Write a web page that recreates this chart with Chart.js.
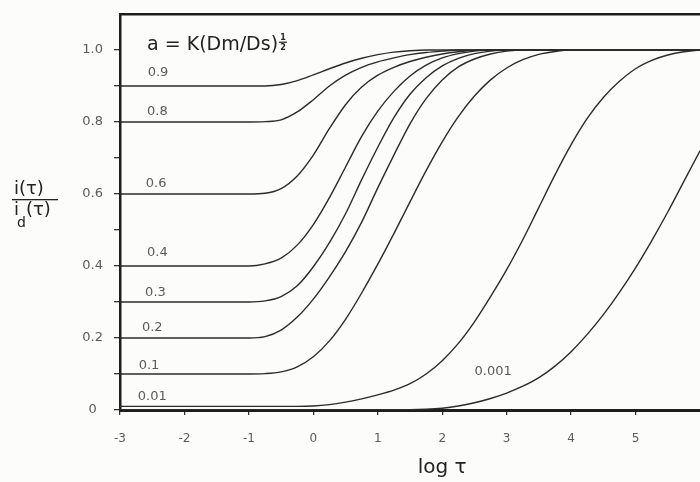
<!DOCTYPE html>
<html>
<head>
<meta charset="utf-8">
<script src="https://cdn.jsdelivr.net/npm/chart.js@4.4.0/dist/chart.umd.min.js"></script>
<style>
  html, body { margin: 0; padding: 0; background: #fcfcfa; }
  #wrap { width: 700px; height: 482px; }
</style>
</head>
<body>
<div id="wrap"><canvas id="chart" width="700" height="482"></canvas></div>
<script>
// x positions (log tau) shared by every curve
const logTau = [-3, -2, -1.5, -1, -0.75, -0.5, -0.25, 0, 0.25, 0.5, 0.75, 1, 1.25, 1.5, 1.75, 2,
                2.25, 2.5, 2.75, 3, 3.25, 3.5, 3.75, 4, 4.25, 4.5, 4.75, 5, 5.25, 5.5, 5.75, 6];

// i(tau)/id(tau), one array per value of a
const a09 = [0.9, 0.9, 0.9, 0.9, 0.9, 0.904, 0.915, 0.931, 0.948, 0.964, 0.977, 0.987, 0.994, 0.998,
             1, 1, 1, 1, 1, 1, 1, 1, 1, 1, 1, 1, 1, 1, 1, 1, 1, 1];
const a08 = [0.8, 0.8, 0.8, 0.8, 0.801, 0.806, 0.828, 0.862, 0.9, 0.93, 0.952, 0.967, 0.978, 0.987, 0.993, 0.997,
             1, 1, 1, 1, 1, 1, 1, 1, 1, 1, 1, 1, 1, 1, 1, 1];
const a06 = [0.6, 0.6, 0.6, 0.6, 0.602, 0.615, 0.65, 0.708, 0.782, 0.848, 0.897, 0.93, 0.952, 0.968, 0.98, 0.989,
             0.995, 0.999, 1, 1, 1, 1, 1, 1, 1, 1, 1, 1, 1, 1, 1, 1];
const a04 = [0.4, 0.4, 0.4, 0.4, 0.406, 0.422, 0.458, 0.515, 0.59, 0.675, 0.76, 0.83, 0.885, 0.928, 0.958, 0.978,
             0.99, 0.997, 1, 1, 1, 1, 1, 1, 1, 1, 1, 1, 1, 1, 1, 1];
const a03 = [0.3, 0.3, 0.3, 0.3, 0.303, 0.315, 0.345, 0.398, 0.465, 0.545, 0.64, 0.73, 0.812, 0.877, 0.923, 0.956,
             0.977, 0.99, 0.997, 1, 1, 1, 1, 1, 1, 1, 1, 1, 1, 1, 1, 1];
const a02 = [0.2, 0.2, 0.2, 0.2, 0.204, 0.222, 0.258, 0.308, 0.37, 0.44, 0.522, 0.617, 0.708, 0.795, 0.865, 0.917,
             0.953, 0.975, 0.989, 0.997, 1, 1, 1, 1, 1, 1, 1, 1, 1, 1, 1, 1];
const a01 = [0.1, 0.1, 0.1, 0.1, 0.101, 0.106, 0.12, 0.148, 0.192, 0.252, 0.325, 0.405, 0.49, 0.578, 0.665, 0.745,
             0.815, 0.872, 0.917, 0.95, 0.973, 0.988, 0.996, 1, 1, 1, 1, 1, 1, 1, 1, 1];
const a001 = [0.01, 0.01, 0.01, 0.01, 0.01, 0.01, 0.01, 0.011, 0.015, 0.022, 0.031, 0.042, 0.055, 0.073, 0.1, 0.137,
              0.185, 0.245, 0.315, 0.39, 0.473, 0.563, 0.653, 0.737, 0.81, 0.868, 0.913, 0.948, 0.971, 0.986, 0.995, 1];
const a0001 = [0.001, 0.001, 0.001, 0.001, 0.001, 0.001, 0.001, 0.001, 0.001, 0.001, 0.001, 0.001, 0.001, 0.001, 0.002, 0.005,
               0.011, 0.02, 0.032, 0.047, 0.066, 0.09, 0.122, 0.162, 0.21, 0.265, 0.327, 0.395, 0.47, 0.55, 0.635, 0.72];

const curves = [a09, a08, a06, a04, a03, a02, a01, a001, a0001];

// curve captions and where they sit (data units)
const curveNames = ['0.9', '0.8', '0.6', '0.4', '0.3', '0.2', '0.1', '0.01', '0.001'];
const nameX = [-2.41, -2.42, -2.44, -2.42, -2.45, -2.5, -2.55, -2.5, 2.79];
const nameY = [0.936, 0.828, 0.628, 0.436, 0.325, 0.228, 0.122, 0.036, 0.106];

const lineColor = '#2b2b2b';
const tickColor = '#5a5a5a';
const fontFamily = '"DejaVu Sans", "Liberation Sans", sans-serif';

const textPlugin = {
    id: 'textPlugin',
    afterDatasetsDraw(chart) {
        const { ctx, chartArea, scales: { x, y } } = chart;
        ctx.save();
        ctx.fillStyle = tickColor;
        ctx.font = '13px ' + fontFamily;
        ctx.textAlign = 'center';
        ctx.textBaseline = 'middle';
        curveNames.forEach((t, i) => {
            ctx.fillText(t, x.getPixelForValue(nameX[i]), y.getPixelForValue(nameY[i]));
        });

        // formula in the top-left corner
        ctx.fillStyle = '#222';
        ctx.font = '19px ' + fontFamily;
        ctx.textAlign = 'left';
        const fx = x.getPixelForValue(-2.58), fy = y.getPixelForValue(1.015);
        const formula = 'a = K(Dm/Ds)';
        ctx.fillText(formula, fx, fy);
        const fw = ctx.measureText(formula).width;
        ctx.font = 'bold 8px ' + fontFamily;
        ctx.textAlign = 'center';
        ctx.fillText('1', fx + fw + 5, fy - 7);
        ctx.fillText('2', fx + fw + 5, fy + 3);
        ctx.fillRect(fx + fw + 1, fy - 3, 8, 1.2);

        // y axis title: i(tau) over id(tau)
        const lx = chartArea.left - 108;
        const ty = chartArea.top;
        ctx.font = '18px ' + fontFamily;
        ctx.textAlign = 'left';
        ctx.fillText('i(τ)', lx + 2, ty + 175);
        ctx.fillRect(lx, ty + 185, 46, 1.3);
        ctx.fillText('i', lx + 2, ty + 196);
        ctx.fillText('(τ)', lx + 14, ty + 196);
        ctx.font = '14px ' + fontFamily;
        ctx.fillText('d', lx + 5, ty + 209);

        // x axis title
        ctx.font = '20px ' + fontFamily;
        ctx.textAlign = 'center';
        ctx.fillText('log τ', x.getPixelForValue(2), chartArea.bottom + 58);
        ctx.restore();
    }
};

new Chart(document.getElementById('chart').getContext('2d'), {
    type: 'line',
    data: {
        datasets: curves.map(v => ({
            data: logTau.map((t, i) => ({ x: t, y: v[i] })),
            borderColor: lineColor,
            borderWidth: 1.4,
            pointRadius: 0,
            fill: false,
            cubicInterpolationMode: 'monotone'
        }))
    },
    options: {
        responsive: false,
        animation: false,
        devicePixelRatio: 1,
        layout: { padding: 0 },
        plugins: { legend: { display: false }, tooltip: { enabled: false } },
        scales: {
            x: {
                type: 'linear', position: 'bottom', min: -3, max: 6,
                afterFit: s => { s.height = 72; s.paddingRight = 0; s.paddingLeft = 0; },
                ticks: {
                    stepSize: 1, color: tickColor, padding: 17,
                    font: { family: fontFamily, size: 12 },
                    callback: v => (v >= 6 ? '' : String(v))
                },
                grid: {
                    drawOnChartArea: false, tickLength: 5, lineWidth: 1.3,
                    color: c => (c.tick && c.tick.value >= 6 ? 'rgba(0,0,0,0)' : '#333')
                },
                border: { display: true, color: '#1e1e1e', width: 3 }
            },
            xTop: {
                type: 'linear', position: 'top', min: -3, max: 6,
                afterFit: s => { s.height = 14; s.paddingRight = 0; s.paddingLeft = 0; },
                ticks: { display: false },
                grid: { display: false },
                border: { display: true, color: '#1e1e1e', width: 2.5 }
            },
            y: {
                min: 0, max: 1.1,
                afterFit: s => { s.width = 120; s.paddingTop = 0; s.paddingBottom = 0; },
                ticks: {
                    stepSize: 0.1, color: tickColor, padding: 11, crossAlign: 'center',
                    font: { family: fontFamily, size: 13 },
                    callback: v => {
                        const k = Math.round(v * 10);
                        if (k % 2 !== 0 || k > 10) return '';
                        return k === 0 ? '0' : (k / 10).toFixed(1);
                    }
                },
                grid: {
                    drawOnChartArea: false, tickLength: 6, lineWidth: 1.3,
                    color: c => (c.tick && c.tick.value > 1.05 ? 'rgba(0,0,0,0)' : '#333')
                },
                border: { display: true, color: '#1e1e1e', width: 2.5 }
            }
        }
    },
    plugins: [textPlugin]
});
</script>
</body>
</html>
